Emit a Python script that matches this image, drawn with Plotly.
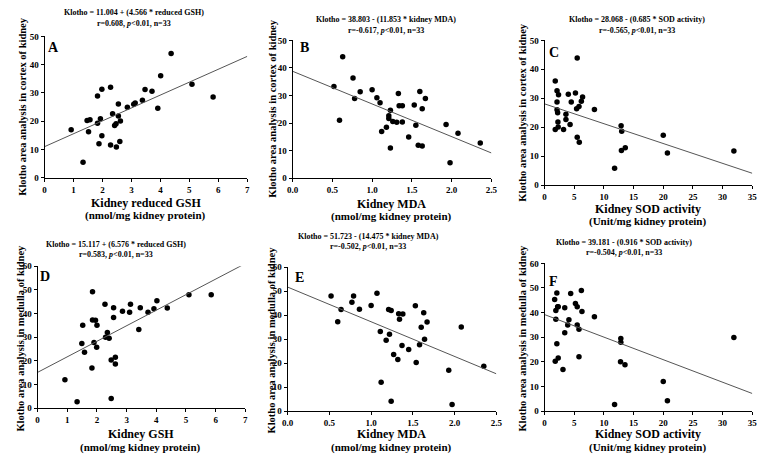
import plotly.graph_objects as go

# ---------------- data ----------------
# Panel A: cortex vs reduced GSH
A_gsh = [0.92, 1.33, 1.47, 1.57, 1.52, 1.83, 1.83, 1.88, 1.93, 1.98, 1.98, 2.28, 2.28, 2.35, 2.42, 2.47,
         2.48, 2.55, 2.55, 2.60, 2.62, 2.86, 3.08, 3.13, 3.38, 3.47, 3.71, 3.91, 4.01, 4.37, 5.09, 5.82]
A_cortex = [17.0, 5.5, 20.3, 20.5, 16.3, 19.3, 28.9, 12.0, 20.9, 31.3, 14.9, 32.0, 11.6, 22.7, 18.5, 19.1,
            10.9, 26.1, 21.9, 12.8, 20.1, 25.0, 26.0, 26.5, 27.4, 31.2, 30.6, 24.6, 36.1, 44.0, 33.1, 28.6]
# Panel B: cortex vs MDA
B_mda = [0.52, 0.59, 0.63, 0.76, 0.78, 0.85, 1.00, 1.06, 1.10, 1.12, 1.18, 1.21, 1.21, 1.23, 1.23, 1.26, 1.31,
         1.33, 1.34, 1.38, 1.38, 1.46, 1.53, 1.55, 1.58, 1.60, 1.63, 1.63, 1.67, 1.93, 1.98, 2.08, 2.36]
B_cortex = [33.3, 21.0, 44.1, 36.4, 28.9, 31.4, 32.1, 29.2, 27.4, 17.0, 18.5, 21.7, 22.7, 24.7, 11.0, 20.6, 20.3,
            30.7, 26.3, 26.3, 20.4, 15.0, 26.6, 19.2, 12.0, 31.5, 25.2, 11.7, 28.9, 19.5, 5.6, 16.3, 12.8]
# Panel C: cortex vs SOD
C_sod = [1.8, 1.8, 2.1, 2.1, 2.1, 2.2, 2.25, 2.3, 2.35, 3.2, 3.6, 3.6, 4.0, 4.3, 4.5, 5.2, 5.4, 5.5, 5.5, 5.8,
         5.85, 6.2, 6.4, 8.4, 11.8, 12.9, 13.0, 12.95, 13.6, 20.0, 20.7, 31.9]
C_cortex = [36.0, 19.2, 28.7, 32.6, 26.0, 25.0, 21.8, 20.1, 31.2, 19.2, 24.5, 22.7, 31.4, 20.9, 28.7, 31.8, 26.4,
            43.9, 16.5, 27.2, 14.8, 29.0, 30.4, 26.1, 5.8, 20.5, 18.6, 12.0, 12.9, 17.2, 11.1, 11.8]
# Panel D: medulla vs GSH
D_gsh = [0.92, 1.33, 1.49, 1.52, 1.58, 1.85, 1.85, 1.83, 1.95, 1.90, 1.99, 2.00, 2.27, 2.29, 2.35, 2.41, 2.48,
         2.48, 2.56, 2.56, 2.62, 2.62, 2.86, 3.10, 3.13, 3.41, 3.46, 3.72, 3.92, 4.02, 4.37, 5.10, 5.85]
D_medulla = [12.0, 2.7, 27.3, 35.1, 23.6, 49.2, 37.3, 17.0, 37.2, 27.7, 25.7, 35.0, 43.9, 30.0, 32.0, 29.5, 20.3,
             4.1, 42.4, 38.3, 21.5, 18.7, 41.0, 40.6, 43.9, 33.2, 42.5, 40.5, 42.0, 45.4, 42.3, 48.0, 48.0]
# Panel E: medulla vs MDA
E_mda = [0.52, 0.60, 0.64, 0.77, 0.79, 0.86, 1.00, 1.07, 1.11, 1.12, 1.18, 1.21, 1.22, 1.24, 1.24, 1.27, 1.32,
         1.33, 1.34, 1.37, 1.38, 1.45, 1.53, 1.54, 1.58, 1.60, 1.63, 1.64, 1.67, 1.93, 1.97, 2.08, 2.35]
E_medulla = [48.0, 37.3, 42.4, 45.4, 48.0, 42.5, 44.0, 49.2, 33.2, 12.0, 29.5, 42.4, 32.0, 42.0, 4.1, 23.6, 21.5,
             40.6, 38.3, 27.3, 40.5, 25.7, 43.9, 20.3, 27.7, 35.0, 41.0, 30.0, 37.2, 17.0, 2.7, 35.1, 18.7]
# Panel F: medulla vs SOD
F_sod = [1.7, 1.8, 1.9, 1.9, 2.07, 2.07, 2.2, 2.3, 2.3, 3.1, 3.4, 3.4, 3.9, 4.1, 4.4, 5.2, 5.5, 5.5, 5.8, 5.8,
         6.2, 6.3, 8.4, 11.8, 12.85, 12.85, 12.8, 13.55, 20.0, 20.7, 31.9]
F_medulla = [45.3, 20.2, 40.8, 37.3, 48.0, 27.3, 42.4, 42.4, 21.5, 16.9, 42.0, 31.8, 34.9, 37.1, 47.8, 43.7, 42.4,
             35.0, 33.2, 22.1, 49.0, 40.4, 38.3, 2.6, 29.5, 27.9, 20.0, 18.8, 12.0, 4.2, 29.9]

# regression lines (intercept, slope)
intercepts = [11.004, 38.803, 28.068, 15.117, 51.723, 39.181]
slopes = [4.566, -11.853, -0.685, 6.576, -14.475, -0.916]

panel_letters = ["A", "B", "C", "D", "E", "F"]
eq_lines = [
    "Klotho = 11.004 + (4.566 * reduced GSH)",
    "Klotho = 38.803 - (11.853 * kidney MDA)",
    "Klotho = 28.068 - (0.685 * SOD activity)",
    "Klotho = 15.117 + (6.576 * reduced GSH)",
    "Klotho = 51.723 - (14.475 * kidney MDA)",
    "Klotho = 39.181 - (0.916 * SOD activity)",
]
stat_lines = [
    "r=0.608, <i>p</i>&lt;0.01, n=33",
    "r=-0.617, <i>p</i>&lt;0.01, n=33",
    "r=-0.565, <i>p</i>&lt;0.01, n=33",
    "r=0.583, <i>p</i>&lt;0.01, n=33",
    "r=-0.502, <i>p</i>&lt;0.01, n=33",
    "r=-0.504, <i>p</i>&lt;0.01, n=33",
]
x_titles_1 = ["Kidney reduced GSH", "Kidney MDA", "Kidney SOD activity",
              "Kidney GSH", "Kidney MDA", "Kidney SOD activity"]
x_titles_2 = ["(nmol/mg kidney protein)", "(nmol/mg kidney protein)", "(Unit/mg kidney protein)",
              "(nmol/mg kidney protein)", "(nmol/mg kidney protein)", "(Unit/mg kidney protein)"]
y_titles = ["Klotho area analysis in cortex of kidney"] * 3 + ["Klotho area analysis in medulla of kidney"] * 3
x_ranges = [[0, 7], [0, 2.5], [0, 35], [0, 7], [0, 2.5], [0, 35]]
x_dticks = [1, 0.5, 5, 1, 0.5, 5]
x_formats = ["d", ".1f", "d", "d", ".1f", "d"]
y_ranges = [[0, 50], [0, 50], [0, 50], [0, 60], [0, 60], [0, 60]]

xs = [A_gsh, B_mda, C_sod, D_gsh, E_mda, F_sod]
ys = [A_cortex, B_cortex, C_cortex, D_medulla, E_medulla, F_medulla]

# ---------------- layout (window pixel geometry) ----------------
OFF = 8               # default page body margin
W, H = 775 - OFF, 461 - OFF
# plot boxes: left, right, top, bottom in window pixels
boxes = [(39, 245, 32, 176.5), (291, 493, 36, 177), (547, 758, 36, 184),
         (32, 243, 267, 412), (286, 498, 268, 415), (547, 758, 264, 415)]
title_pos = [(130, 7.5, 18.5), (386, 15, 25.5), (641, 15, 25.5),
             (112, 245, 255), (368, 237, 246.5), (628, 243, 252.5)]
xtitle_pos = [(142, 202, 215), (392, 203, 216), (652, 208, 221),
              (137, 439, 452), (392, 439, 452), (652, 439, 452)]
ytitle_pos = [(17, 104), (271, 106), (525, 110), (15, 340), (270, 342), (525, 340)]
letter_pos = [(48, 43), (303, 43), (557, 48), (40, 277), (298, 278), (556, 283)]


def fx(p):
    return (p - OFF) / W


def fy(p):
    return 1 - (p - OFF) / H


FONT = "Liberation Serif, Times New Roman, serif"
fig = go.Figure()
annotations = []

for i in range(6):
    k = "" if i == 0 else str(i + 1)
    xa, ya = "x" + k, "y" + k
    l, r, t, b = boxes[i]
    fig.add_trace(go.Scatter(
        x=xs[i], y=ys[i], mode="markers", xaxis=xa, yaxis=ya,
        marker=dict(color="black", size=5.5, line=dict(width=0)),
        showlegend=False, cliponaxis=False))
    x0, x1 = x_ranges[i]
    fig.add_trace(go.Scatter(
        x=[x0, x1], y=[intercepts[i] + slopes[i] * x0, intercepts[i] + slopes[i] * x1],
        mode="lines", xaxis=xa, yaxis=ya, line=dict(color="#555555", width=1),
        showlegend=False))
    axis_common = dict(showline=True, linecolor="black", linewidth=1, ticks="outside",
                       ticklen=3, tickwidth=1, tickcolor="black", showgrid=False, zeroline=False,
                       tickfont=dict(family=FONT, size=9, color="black", weight="bold"))
    fig.update_layout(**{
        "xaxis" + k: dict(domain=[fx(l), fx(r)], range=x_ranges[i], dtick=x_dticks[i], tick0=0,
                          tickformat=x_formats[i], anchor=ya, **axis_common),
        "yaxis" + k: dict(domain=[fy(b), fy(t)], range=y_ranges[i], dtick=10, tick0=0,
                          anchor=xa, **axis_common),
    })
    cx, y1, y2 = title_pos[i]
    annotations.append(dict(x=fx(cx), y=fy(y1), text="<b>" + eq_lines[i] + "</b>", showarrow=False,
                            xref="paper", yref="paper", xanchor="center", yanchor="middle",
                            font=dict(family=FONT, size=8, color="black")))
    annotations.append(dict(x=fx(cx), y=fy(y2), text="<b>" + stat_lines[i] + "</b>", showarrow=False,
                            xref="paper", yref="paper", xanchor="center", yanchor="middle",
                            font=dict(family=FONT, size=8, color="black")))
    cx, y1, y2 = xtitle_pos[i]
    annotations.append(dict(x=fx(cx), y=fy(y1), text="<b>" + x_titles_1[i] + "</b>", showarrow=False,
                            xref="paper", yref="paper", xanchor="center", yanchor="middle",
                            font=dict(family=FONT, size=12, color="black")))
    annotations.append(dict(x=fx(cx), y=fy(y2), text="<b>" + x_titles_2[i] + "</b>", showarrow=False,
                            xref="paper", yref="paper", xanchor="center", yanchor="middle",
                            font=dict(family=FONT, size=11, color="black")))
    cx, cy = ytitle_pos[i]
    annotations.append(dict(x=fx(cx), y=fy(cy), text="<b>" + y_titles[i] + "</b>", showarrow=False,
                            xref="paper", yref="paper", xanchor="center", yanchor="middle", textangle=-90,
                            font=dict(family=FONT, size=10.5, color="black")))
    lx, ly = letter_pos[i]
    annotations.append(dict(x=fx(lx), y=fy(ly), text="<b>" + panel_letters[i] + "</b>", showarrow=False,
                            xref="paper", yref="paper", xanchor="center", yanchor="middle",
                            font=dict(family=FONT, size=14, color="black")))

fig.update_layout(width=W, height=H, margin=dict(l=0, r=0, t=0, b=0),
                  paper_bgcolor="white", plot_bgcolor="white", annotations=annotations,
                  showlegend=False)

fig.write_html("out.html")
